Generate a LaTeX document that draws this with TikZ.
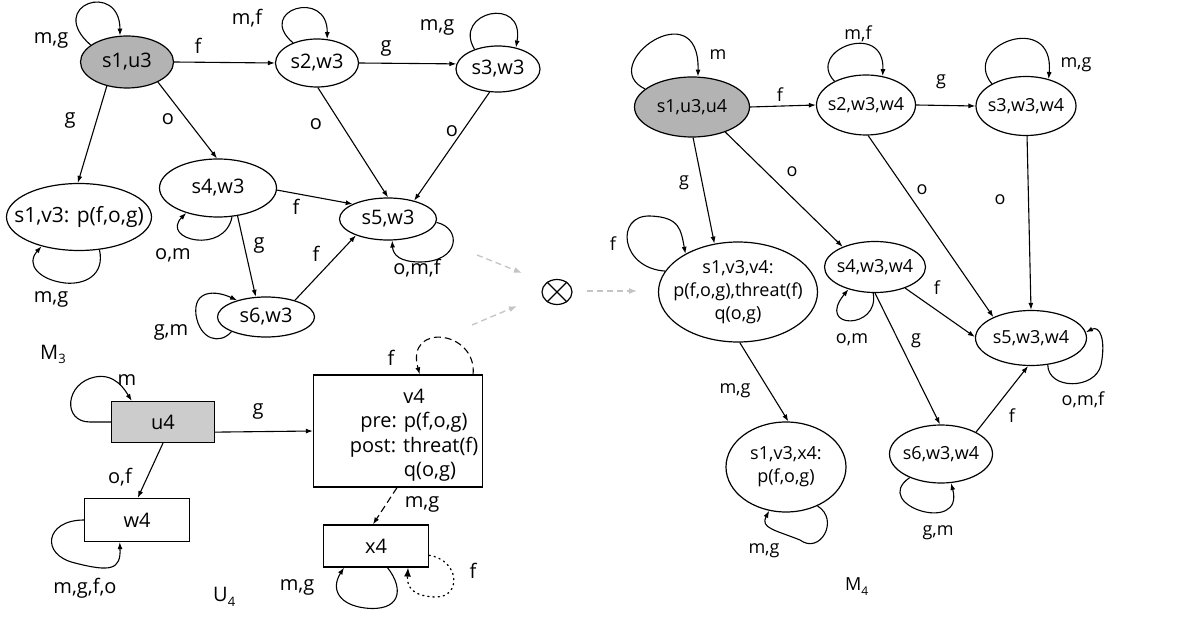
\documentclass[tikz,border=0pt]{standalone}
\usepackage{fontspec}
\setmainfont{Open Sans}
\usetikzlibrary{shapes.geometric,arrows.meta}
\definecolor{grayA}{HTML}{B3B3B3}
\definecolor{grayB}{HTML}{CCCCCC}
\definecolor{grayC}{HTML}{C4C4C4}
\begin{document}
\begin{tikzpicture}[x=1pt,y=-1pt,
  ell/.style={ellipse, draw, line width=1.2pt, inner sep=0pt},
  bx/.style={rectangle, draw, line width=1.2pt, inner sep=0pt, font=\fontsize{20}{24}\selectfont},
  arr/.style={-{Latex[length=7pt,width=5pt]}, line width=1.1pt},
  dsh/.style={dash pattern=on 7pt off 4pt},
  dtt/.style={dash pattern=on 1.2pt off 4pt, line cap=round, -{Latex[length=9pt,width=7pt]}, line width=1.3pt},
  garr/.style={draw=grayC, dash pattern=on 6pt off 4pt, line width=1.3pt, -{Latex[length=8pt,width=6pt]}},
  lbl/.style={inner sep=0pt, anchor=base, font=\fontsize{20}{24}\selectfont},
  lblb/.style={inner sep=0pt, anchor=base, font=\fontsize{18}{22}\selectfont},
  ntxt/.style={font=\fontsize{20}{24.5}\selectfont, align=center, inner sep=0pt},
  ntxtb/.style={font=\fontsize{18}{23}\selectfont, align=center, inner sep=0pt}]
\useasboundingbox (0,0) rectangle (1177,617);

% ---------------- M3 ----------------
\node[ell, fill=grayA, minimum width=93pt, minimum height=52pt, label={[ntxt]center:{s1,u3}}] (a1) at (127,62) {};
\node[ell, minimum width=83pt, minimum height=48pt, label={[ntxt]center:{s2,w3}}] (a2) at (317,63) {};
\node[ell, minimum width=84pt, minimum height=46pt, label={[ntxt]center:{s3,w3}}] (a3) at (498,69) {};
\node[ell, minimum width=145pt, minimum height=67pt, label={[ntxt, font=\fontsize{21}{25}\selectfont]center:{s1,v3: p(f,o,g)}}] (a4) at (79,217) {};
\node[ell, minimum width=117pt, minimum height=58pt, label={[ntxt]center:{s4,w3}}] (a5) at (218,188) {};
\node[ell, minimum width=97pt, minimum height=42pt, label={[ntxt]center:{s5,w3}}] (a6) at (388,219) {};
\node[ell, minimum width=97pt, minimum height=40pt, label={[ntxt]center:{s6,w3}}] (a7) at (266,317) {};

\draw[arr] (a1.0) -- (a2.180);
\draw[arr] (a2.0) -- (a3.173);
\draw[arr] (a1.230) -- (a4.92);
\draw[arr] (a1.327) -- (a5.92);
\draw[arr] (a2.272) -- (a6.90);
\draw[arr] (a3.250) -- (a6.35);
\draw[arr] (a5.358) -- (a6.157);
\draw[arr] (a5.305) -- (a7.117);
\draw[arr] (a7.30) -- (a6.207);

\draw[arr] (a1.155) .. controls (45,5) and (120,-20) .. (a1.105);
\draw[arr] (a2.140) .. controls (255,10) and (328,-12) .. (a2.67);
\draw[arr] (a3.140) .. controls (452,12) and (525,-5) .. (a3.50);
\draw[arr] (a4.302) .. controls (105,275) and (85,285) .. (65,283) .. controls (40,280) and (25,265) .. (a4.218);
\draw[arr] (a5.296) .. controls (225,255) and (160,240) .. (a5.218);
\draw[arr] (a6.356) .. controls (462,228) and (460,262) .. (420,262) .. controls (400,262) and (393,255) .. (a6.281);
\draw[arr] (a7.203) .. controls (220,345) and (200,340) .. (196,315) .. controls (193,290) and (215,290) .. (a7.150);

\node[lbl] (la1) at (51,44) {m,g};
\node[lbl] (la2) at (198,54) {f};
\node[lbl] (la3) at (247,25) {m,f};
\node[lbl] (la4) at (386,52) {g};
\node[lbl] (la5) at (437,31) {m,g};
\node[lbl] (la6) at (70,124) {g};
\node[lbl] (la7) at (168,125) {o};
\node[lbl] (la8) at (316,130) {o};
\node[lbl] (la9) at (452,137) {o};
\node[lbl] (la10) at (296,215) {f};
\node[lbl] (la11) at (173,260) {o,m};
\node[lbl] (la12) at (259,249) {g};
\node[lbl] (la13) at (316,262) {f};
\node[lbl] (la14) at (417,275) {o,m,f};
\node[lbl] (la15) at (51,303) {m,g};
\node[lbl] (la16) at (171,335) {g,m};
\node[lbl, anchor=base west] (m3) at (40,359) {M\raisebox{-5pt}{\fontsize{13}{13}\selectfont 3}};

% ---------------- U4 ----------------
\node[bx, fill=grayB, minimum width=103pt, minimum height=41pt] (c1) at (163,422) {u4};
\node[bx, minimum width=105pt, minimum height=43pt] (c2) at (137,520) {w4};
\node[bx, minimum width=169pt, minimum height=112pt] (c3) at (398,431) {};
\node[ntxt] (c3t) at (414,435) {v4\\pre: p(f,o,g)\\post: threat(f)\\\hspace*{32pt}q(o,g)};
\node[bx, minimum width=105pt, minimum height=42pt] (c4) at (376,546) {x4};

\draw[arr] (c1.180) -- (90,422) .. controls (62,422) and (65,383) .. (95,377) .. controls (115,373) and (125,390) .. (c1.146);
\draw[arr] (c1.349) -- (c3.180);
\draw[arr] (c1.270) -- (c2.88);
\draw[arr] (c2.180) .. controls (45,520) and (40,555) .. (75,563) .. controls (110,572) and (121,570) .. (c2.232);
\draw[arr, dsh] (c3.37) .. controls (477,330) and (405,322) .. (c3.69.4);
\draw[arr, dsh] (c3.269) -- (c4.98);
\draw[arr] (c4.298) .. controls (405,590) and (400,612) .. (365,608) .. controls (340,605) and (330,590) .. (c4.214);
\draw[dtt] (c4.350) .. controls (460,560) and (462,598) .. (435,597) .. controls (410,596) and (407,585) .. (c4.326);

\node[lbl] (lc1) at (127,385) {m};
\node[lbl] (lc2) at (258,414) {g};
\node[lbl] (lc3) at (120,483) {o,f};
\node[lbl] (lc4) at (85,593) {m,g,f,o};
\node[lbl] (lc5) at (391,365) {f};
\node[lbl] (lc6) at (422,507) {m,g};
\node[lbl] (lc7) at (297,590) {m,g};
\node[lbl] (lc8) at (473,578) {f};
\node[lbl, anchor=base west] (u4l) at (213,601) {U\raisebox{-5pt}{\fontsize{13}{13}\selectfont 4}};

% ---------------- product ----------------
\node[ellipse, draw, line width=1.2pt, inner sep=0pt, minimum width=30pt, minimum height=25pt] (ot) at (557,292) {};
\draw[line width=1.2pt] (ot.45) -- (ot.225) (ot.135) -- (ot.315);
\coordinate (g1s) at (477,255);
\coordinate (g1e) at (522,273);
\coordinate (g2s) at (472,325);
\coordinate (g2e) at (517,306);
\coordinate (g3s) at (587,291);
\coordinate (g3e) at (637,291);
\draw[garr] (g1s) -- (g1e);
\draw[garr] (g2s) -- (g2e);
\draw[garr] (g3s) -- (g3e);

% ---------------- M4 ----------------
\node[ell, fill=grayA, minimum width=115pt, minimum height=60pt, label={[ntxtb]center:{s1,u3,u4}}] (b1) at (692,107) {};
\node[ell, minimum width=99pt, minimum height=60pt, label={[ntxtb]center:{s2,w3,w4}}] (b2) at (866,105) {};
\node[ell, minimum width=100pt, minimum height=59pt, label={[ntxtb]center:{s3,w3,w4}}] (b3) at (1026,106) {};
\node[ell, minimum width=159pt, minimum height=100pt, label={[ntxtb]center:{s1,v3,v4:\\p(f,o,g),threat(f)\\q(o,g)}}] (b4) at (738,292) {};
\node[ell, minimum width=101pt, minimum height=51pt, label={[ntxtb]center:{s4,w3,w4}}] (b5) at (875,267) {};
\node[ell, minimum width=111pt, minimum height=55pt, label={[ntxtb]center:{s5,w3,w4}}] (b6) at (1031,338) {};
\node[ell, minimum width=103pt, minimum height=58pt, label={[ntxtb]center:{s6,w3,w4}}] (b7) at (941,454) {};
\node[ell, minimum width=120pt, minimum height=90pt, label={[ntxtb]center:{s1,v3,x4:\\p(f,o,g)}}] (b8) at (786,467) {};

\draw[arr] (b1.0) -- (b2.180);
\draw[arr] (b2.0) -- (b3.180);
\draw[arr] (b1.272) -- (b4.116);
\draw[arr] (b1.323) -- (b5.148);
\draw[arr] (b2.274) -- (b6.151);
\draw[arr] (b3.272) -- (b6.90);
\draw[arr] (b5.325) -- (b6.179);
\draw[arr] (b5.270) -- (b7.92);
\draw[arr] (b7.32) -- (b6.264);
\draw[arr] (b4.272) -- (b8.87);

\draw[arr] (b1.159) .. controls (595,65) and (700,-10) .. (b1.79);
\draw[arr] (b2.143) .. controls (805,50) and (885,20) .. (b2.60);
\draw[arr] (b3.147) .. controls (960,45) and (1055,10) .. (b3.50);
\draw[arr] (b4.164) .. controls (620,268) and (615,215) .. (650,216) .. controls (680,217) and (681,230) .. (b4.144);
\draw[arr] (b5.266) .. controls (880,330) and (815,330) .. (b5.220);
\draw[arr] (b6.302) .. controls (1048,390) and (1095,390) .. (1101,365) .. controls (1106,340) and (1100,325) .. (b6.6);
\draw[arr] (b7.217) .. controls (870,505) and (965,535) .. (b7.289);
\draw[arr] (b8.309) .. controls (840,520) and (820,555) .. (800,540) .. controls (775,530) and (760,528) .. (b8.249);

\node[lblb] (lb1) at (718,60) {m};
\node[lblb] (lb2) at (780,102) {f};
\node[lblb] (lb3) at (858,40) {m,f};
\node[lblb] (lb4) at (941,85) {g};
\node[lblb] (lb5) at (1076,68) {m,g};
\node[lblb] (lb6) at (684,186) {g};
\node[lblb] (lb7) at (792,177) {o};
\node[lblb] (lb8) at (922,195) {o};
\node[lblb] (lb9) at (1000,205) {o};
\node[lblb] (lb10) at (613,251) {f};
\node[lblb] (lb11) at (852,343) {o,m};
\node[lblb] (lb12) at (937,295) {f};
\node[lblb] (lb13) at (916,343) {g};
\node[lblb] (lb14) at (1012,422) {f};
\node[lblb] (lb15) at (1083,405) {o,m,f};
\node[lblb] (lb16) at (735,393) {m,g};
\node[lblb] (lb17) at (938,535) {g,m};
\node[lblb] (lb18) at (764,553) {m,g};
\node[lblb, anchor=base west] (m4) at (845,590) {M\raisebox{-5pt}{\fontsize{12}{12}\selectfont 4}};
\end{tikzpicture}
\end{document}
